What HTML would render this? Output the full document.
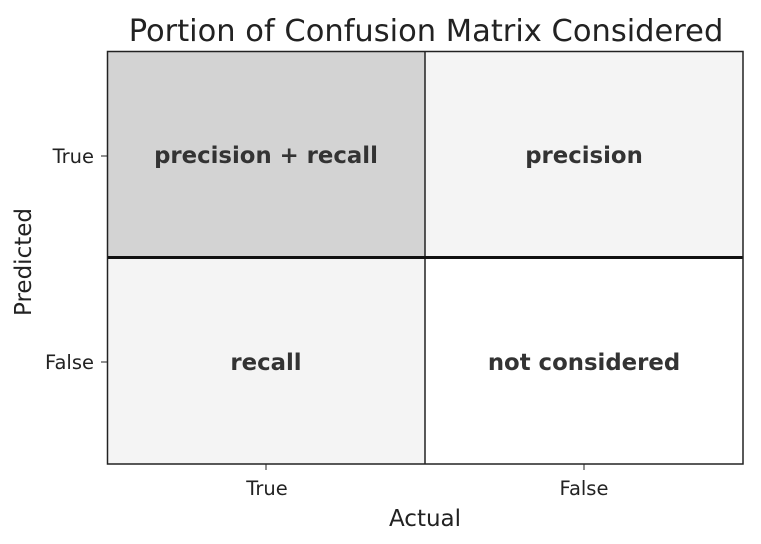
<!DOCTYPE html>
<html><head><meta charset="utf-8"><style>body{margin:0;background:#fff}svg{display:block}</style></head><body>
<svg width="761" height="544" xmlns="http://www.w3.org/2000/svg" font-family="DejaVu Sans, Liberation Sans, sans-serif">
<rect width="761" height="544" fill="#fff"/>
<text x="426" y="41" font-size="30.5" text-anchor="middle" fill="#222">Portion of Confusion Matrix Considered</text>
<rect x="107" y="51" width="318" height="206" fill="#d3d3d3"/>
<rect x="425" y="51" width="318" height="206" fill="#f4f4f4"/>
<rect x="107" y="257" width="318" height="207" fill="#f4f4f4"/>
<rect x="425" y="257" width="318" height="207" fill="#fff"/>
<line x1="425" y1="51" x2="425" y2="464" stroke="#222" stroke-width="1.5"/>
<line x1="107" y1="257.5" x2="743" y2="257.5" stroke="#111" stroke-width="3"/>
<rect x="107.5" y="51.5" width="635.5" height="412.5" fill="none" stroke="#222" stroke-width="1.5"/>
<g font-size="22.8" font-weight="bold" fill="#333" text-anchor="middle">
<text x="266" y="163">precision + recall</text>
<text x="584" y="163">precision</text>
<text x="266" y="370">recall</text>
<text x="584" y="370">not considered</text>
</g>
<g stroke="#222" stroke-width="1">
<line x1="101" y1="156" x2="107" y2="156"/><line x1="101" y1="362" x2="107" y2="362"/>
<line x1="266" y1="464" x2="266" y2="470"/><line x1="584" y1="464" x2="584" y2="470"/>
</g>
<g font-size="19.5" fill="#222">
<text x="94" y="163" text-anchor="end">True</text>
<text x="94" y="369" text-anchor="end">False</text>
<text x="267" y="495" text-anchor="middle">True</text>
<text x="584" y="495" text-anchor="middle">False</text>
</g>
<text x="425" y="526" font-size="23" text-anchor="middle" fill="#222">Actual</text>
<text transform="translate(31,262) rotate(-90)" font-size="23" text-anchor="middle" fill="#222">Predicted</text>
</svg>
</body></html>
